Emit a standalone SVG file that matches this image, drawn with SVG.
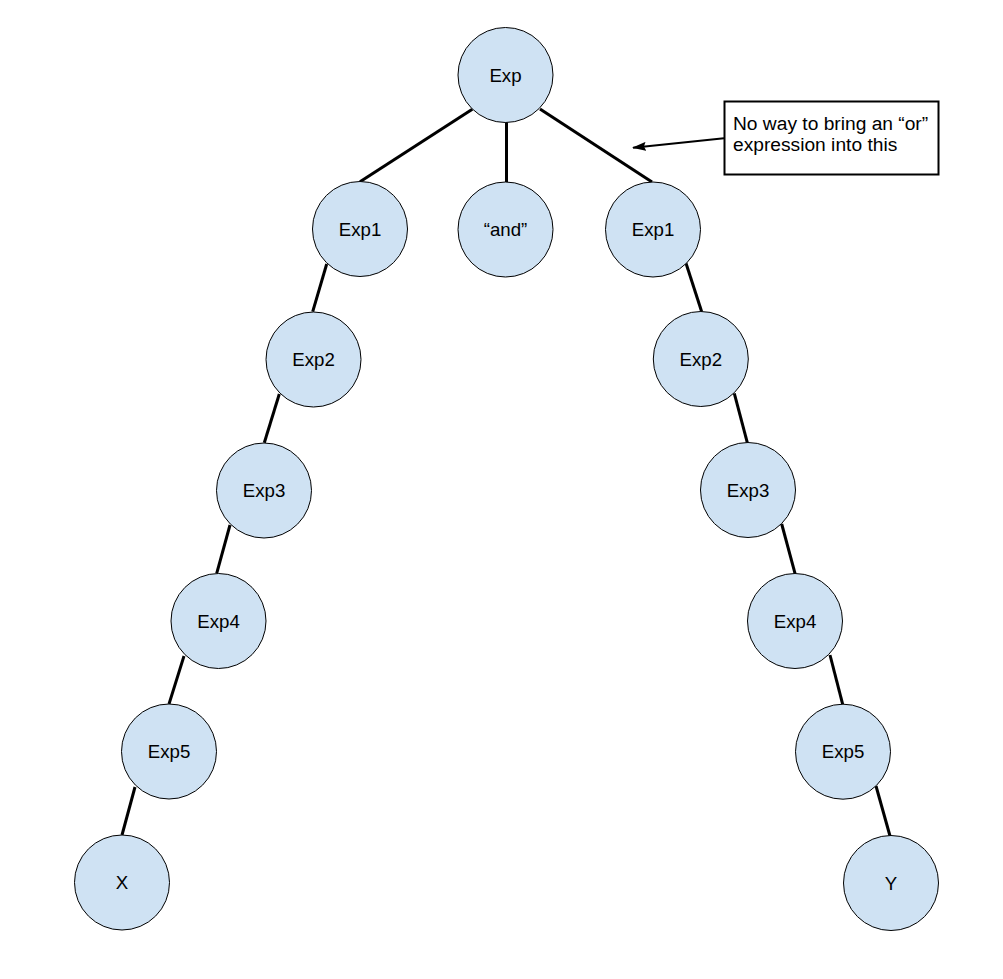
<svg xmlns="http://www.w3.org/2000/svg" width="1003" height="979" viewBox="0 0 1003 979">
<style>
.n circle{fill:#cfe2f3;stroke:#000;stroke-width:1}
text{font-family:"Liberation Sans",Arial,sans-serif;font-size:18.67px;fill:#000}
.n text{text-anchor:middle}
.c text{font-size:19.2px}
.e line{stroke:#000;stroke-width:3;stroke-linecap:butt}
</style>
<defs>
<marker id="ah" viewBox="0 0 14 9" refX="13" refY="4.5" markerWidth="7" markerHeight="4.5" orient="auto" markerUnits="strokeWidth">
<path d="M0,0 L14,4.5 L0,9 L2,4.5 z" fill="#000"/>
</marker>
</defs>
<rect width="1003" height="979" fill="#fff"/>
<g id="connectors" class="e">
<line x1="472.3" y1="109.3" x2="360" y2="181.7"/>
<line x1="506.5" y1="122" x2="506.5" y2="182"/>
<line x1="540" y1="109" x2="652" y2="182"/>
<line x1="326.7" y1="264" x2="312.7" y2="311.7"/>
<line x1="279.3" y1="394" x2="264.3" y2="442.7"/>
<line x1="230" y1="525" x2="216.7" y2="573.3"/>
<line x1="184" y1="656" x2="169" y2="704"/>
<line x1="135" y1="787" x2="122" y2="835"/>
<line x1="686" y1="263.3" x2="701.7" y2="311.7"/>
<line x1="734.3" y1="393.3" x2="747.3" y2="442.7"/>
<line x1="781.7" y1="524" x2="795" y2="573.3"/>
<line x1="830" y1="655" x2="842.7" y2="704.3"/>
<line x1="876" y1="786" x2="890" y2="836"/>
</g>
<g id="callout-arrow">
<line x1="724" y1="138.3" x2="633" y2="147.7" stroke="#000" stroke-width="2" marker-end="url(#ah)"/>
</g>
<g id="n-exp" class="n"><circle cx="505.5" cy="75" r="47.5"/><text x="505.5" y="81.5">Exp</text></g>
<g id="n-exp1-l" class="n"><circle cx="360" cy="229" r="47.5"/><text x="360" y="235.5">Exp1</text></g>
<g id="n-and" class="n"><circle cx="505.5" cy="229.5" r="47.5"/><text x="505.5" y="236">“and”</text></g>
<g id="n-exp1-r" class="n"><circle cx="653" cy="229.5" r="47.5"/><text x="653" y="236">Exp1</text></g>
<g id="n-exp2-l" class="n"><circle cx="313.5" cy="359.5" r="47.5"/><text x="313.5" y="366">Exp2</text></g>
<g id="n-exp3-l" class="n"><circle cx="264" cy="490.5" r="47.5"/><text x="264" y="497">Exp3</text></g>
<g id="n-exp4-l" class="n"><circle cx="218.5" cy="621" r="47.5"/><text x="218.5" y="627.5">Exp4</text></g>
<g id="n-exp5-l" class="n"><circle cx="169" cy="751.5" r="47.5"/><text x="169" y="758">Exp5</text></g>
<g id="n-x" class="n"><circle cx="122" cy="882.5" r="47.5"/><text x="122" y="889">X</text></g>
<g id="n-exp2-r" class="n"><circle cx="700.8" cy="359" r="47.5"/><text x="700.8" y="365.5">Exp2</text></g>
<g id="n-exp3-r" class="n"><circle cx="748" cy="490" r="47.5"/><text x="748" y="496.5">Exp3</text></g>
<g id="n-exp4-r" class="n"><circle cx="795" cy="621" r="47.5"/><text x="795" y="627.5">Exp4</text></g>
<g id="n-exp5-r" class="n"><circle cx="843" cy="751.7" r="47.5"/><text x="843" y="758.2">Exp5</text></g>
<g id="n-y" class="n"><circle cx="891" cy="883" r="47.5"/><text x="891" y="889.5">Y</text></g>
<g id="callout" class="c">
<rect x="724.5" y="101.5" width="214" height="73" fill="#fff" stroke="#000" stroke-width="2"/>
<text x="733" y="129.7">No way to bring an “or”</text>
<text x="733" y="150.7">expression into this</text>
</g>
</svg>
